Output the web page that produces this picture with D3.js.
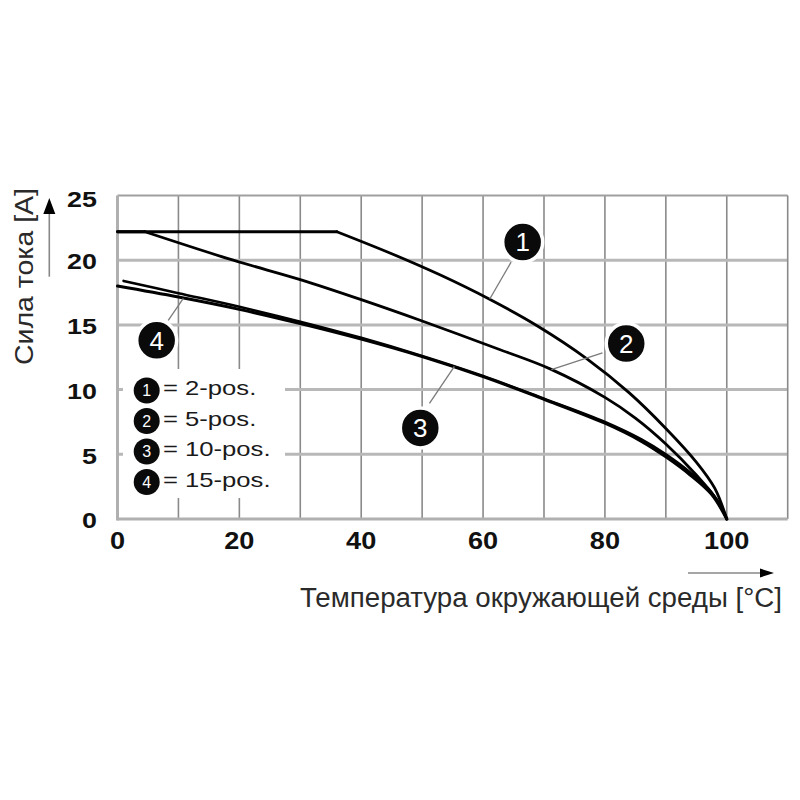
<!DOCTYPE html>
<html><head><meta charset="utf-8">
<script src="https://cdn.jsdelivr.net/npm/d3@7"></script>
<style>body{margin:0;background:#fff}svg{display:block}</style>
</head><body>
<script>
// ---------- data ----------
const xTickValues = [0, 20, 40, 60, 80, 100];
const yTickValues = [0, 5, 10, 15, 20, 25];
const xGridValues = [10, 20, 30, 40, 50, 60, 70, 80, 90, 100];
const yGridValues = [5, 10, 15, 20];
const seriesIds = ["1", "2", "3", "4"];
const seriesNames = ["2-pos.", "5-pos.", "10-pos.", "15-pos."];
const series1 = [[0,22.2],[36,22.2],[45,20.5],[53,18.85],[61,17.0],[69,14.9],[77,12.4],[84,9.75],[90,7.0],[95,4.4],[98,2.4],[100,0]];
const series2 = [[0,22.2],[4.5,22.2],[19,20.0],[30,18.5],[40,16.95],[50,15.3],[62.7,13.1],[71,11.6],[80,9.4],[85,7.8],[90,5.8],[95,3.4],[98.5,1.4],[100,0]];
const series3 = [[0,18.0],[10,17.15],[20,16.2],[30,15.1],[40,13.9],[50,12.55],[60,11.0],[70,9.25],[80,7.4],[86,6.0],[90,4.8],[94,3.4],[97.5,1.9],[100,0]];
const series4 = [[1,18.4],[10,17.45],[20,16.4],[30,15.25],[40,14.0],[50,12.6],[60,11.05],[70,9.3],[80,7.5],[86,6.15],[90,5.0],[94,3.6],[97.5,2.05],[100,0]];
const xTitle = "Температура окружающей среды [°C]";
const yTitle = "Сила тока [А]";

// ---------- layout (not data) ----------
const FONT = "'Liberation Sans', Arial, Helvetica, sans-serif";
const callouts = [
  {c:[66.5,21.4], from:[64.6,19.85], to:[61.1,17.0]},
  {c:[83.5,13.56], from:[79.6,12.83], to:[71.2,11.55]},
  {c:[49.7,7.04], from:[51.2,8.93], to:[55.3,11.8]},
  {c:[6.43,13.81], from:[8.33,15.35], to:[10.8,17.05]}
];

const svg = d3.select("body").append("svg").attr("width",800).attr("height",800);
const x = d3.scaleLinear([0,110],[117.5,787.7]);
const y = d3.scaleLinear([0,25],[519,195.5]);

function stretch(sel, factor){
  sel.each(function(){
    const L = this.getComputedTextLength();
    d3.select(this).attr("textLength", L*factor).attr("lengthAdjust","spacingAndGlyphs");
  });
}

// grid
svg.append("g").selectAll("line").data(xGridValues).join("line")
  .attr("x1",d=>x(d)).attr("x2",d=>x(d)).attr("y1",y(0)).attr("y2",y(25))
  .attr("stroke","#8a8a8a").attr("stroke-width",1.6);
svg.append("g").selectAll("line").data(yGridValues).join("line")
  .attr("x1",x(0)).attr("x2",x(110)).attr("y1",d=>y(d)).attr("y2",d=>y(d))
  .attr("stroke","#b8b8b8").attr("stroke-width",3);
svg.append("line").attr("x1",x(0)).attr("x2",x(110)).attr("y1",y(25)).attr("y2",y(25))
  .attr("stroke","#a0a0a0").attr("stroke-width",2);
svg.append("line").attr("x1",x(110)).attr("x2",x(110)).attr("y1",y(0)).attr("y2",y(25))
  .attr("stroke","#8a8a8a").attr("stroke-width",1.6);

// legend background
svg.append("rect").attr("x",123).attr("y",369).attr("width",162).attr("height",129).attr("fill","#fff");

// axes
svg.append("line").attr("x1",x(0)).attr("x2",x(0)).attr("y1",y(0)+1.5).attr("y2",y(25))
  .attr("stroke","#b0b0b0").attr("stroke-width",3);
svg.append("line").attr("x1",x(0)).attr("x2",x(110)).attr("y1",y(0)).attr("y2",y(0))
  .attr("stroke","#b0b0b0").attr("stroke-width",3);

// curves
const lineLin = d3.line().x(d=>x(d[0])).y(d=>y(d[1]));
const lineSmooth = d3.line().x(d=>x(d[0])).y(d=>y(d[1])).curve(d3.curveCatmullRom.alpha(0.5));
function drawSeries(s, w){
  let k = 0;
  while (k+1 < s.length && s[k+1][1] === s[0][1]) k++;
  const g = svg.append("g").attr("fill","none").attr("stroke","#000").attr("stroke-width",w)
    .attr("stroke-linejoin","round").attr("stroke-linecap","round");
  if (k > 0) g.append("path").attr("d", lineLin(s.slice(0,k+1)));
  g.append("path").attr("d", lineSmooth(s.slice(k)));
}
drawSeries(series1, 2.8);
drawSeries(series2, 2.8);
drawSeries(series3, 3.0);
drawSeries(series4, 2.6);

// callouts
callouts.forEach((co,i)=>{
  svg.append("line").attr("x1",x(co.from[0])).attr("y1",y(co.from[1]))
    .attr("x2",x(co.to[0])).attr("y2",y(co.to[1]))
    .attr("stroke","#7a7a7a").attr("stroke-width",1.3);
  svg.append("circle").attr("cx",x(co.c[0])).attr("cy",y(co.c[1])).attr("r",20)
    .attr("fill","#0a0a0a").attr("stroke","#fff").attr("stroke-width",3.5);
  svg.append("text").attr("x",x(co.c[0])).attr("y",y(co.c[1])).attr("dy","0.36em")
    .attr("text-anchor","middle").attr("fill","#fff").attr("font-family",FONT)
    .attr("font-size",26).text(seriesIds[i]);
});

// legend
const lg = svg.append("g");
seriesNames.forEach((nm,i)=>{
  const base = 395 + i*30.5;
  lg.append("circle").attr("cx",146.7).attr("cy",base-4.5).attr("r",13).attr("fill","#0a0a0a");
  lg.append("text").attr("x",146.7).attr("y",base-4.5).attr("dy","0.36em").attr("text-anchor","middle")
    .attr("fill","#fff").attr("font-family",FONT).attr("font-size",16).text(seriesIds[i]);
  const t = lg.append("text").attr("x",163).attr("y",base).attr("fill","#1a1a1a")
    .attr("font-family",FONT).attr("font-size",21).text("= " + nm);
  stretch(t, 1.22);
});

// tick labels
const xt = svg.append("g").selectAll("text").data(xTickValues).join("text")
  .attr("x",d=>x(d)).attr("y",y(0)+29.5).attr("text-anchor","middle")
  .attr("font-family",FONT).attr("font-weight","bold").attr("font-size",23).attr("fill","#111")
  .text(d=>d);
stretch(xt, 1.18);
const yt = svg.append("g").selectAll("text").data(yTickValues).join("text")
  .attr("x",97).attr("y",d=>y(d)+(d===25?11:9.2)).attr("text-anchor","end")
  .attr("font-family",FONT).attr("font-weight","bold").attr("font-size",22).attr("fill","#111")
  .text(d=>d);
stretch(yt, 1.22);

// axis titles
svg.append("text").attr("x",300).attr("y",607).attr("font-family",FONT).attr("font-size",27)
  .attr("fill","#2a2a2a").attr("textLength",482).attr("lengthAdjust","spacingAndGlyphs").text(xTitle);
svg.append("text").attr("transform","translate(33,276.5) rotate(-90)").attr("text-anchor","middle")
  .attr("font-family",FONT).attr("font-size",26).attr("fill","#2a2a2a")
  .attr("textLength",177).attr("lengthAdjust","spacingAndGlyphs").text(yTitle);

// arrows
svg.append("line").attr("x1",49.3).attr("x2",49.3).attr("y1",276.7).attr("y2",212)
  .attr("stroke","#888").attr("stroke-width",1.6);
svg.append("path").attr("d",`M49.3,198 L55.3,214 L43.3,214 Z`).attr("fill","#000");
svg.append("line").attr("x1",688).attr("x2",762).attr("y1",573).attr("y2",573)
  .attr("stroke","#888").attr("stroke-width",1.6);
svg.append("path").attr("d",`M774,573 L760,568.5 L760,577.5 Z`).attr("fill","#000");
</script>
</body></html>
